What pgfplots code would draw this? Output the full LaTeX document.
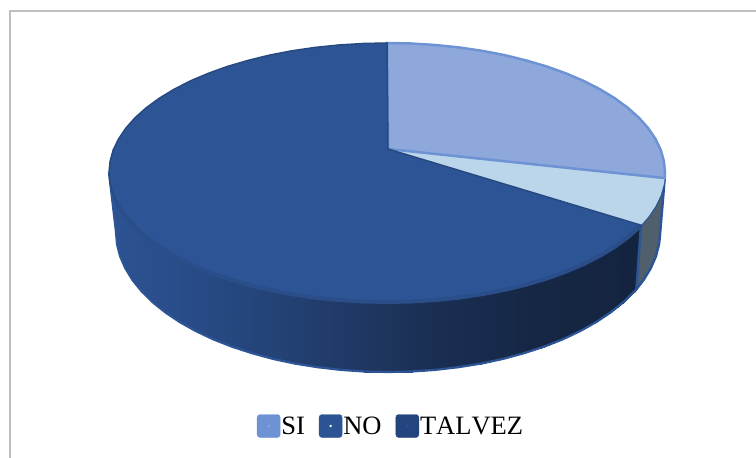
\documentclass[border=0pt]{standalone}
\usepackage{pgfplots}
\pgfplotsset{compat=1.18}
\usepackage{fontspec}
\setmainfont[Kerning=Off]{Liberation Serif}

\definecolor{si}{HTML}{8EA8DB}
\definecolor{siedge}{HTML}{6E93D5}
\definecolor{no}{HTML}{2D5596}
\definecolor{noedge}{HTML}{27497F}
\definecolor{bevel}{HTML}{294E8A}
\definecolor{talvez}{HTML}{BBD6EB}
\definecolor{legno}{HTML}{2C5494}
\definecolor{legtal}{HTML}{24447F}
\definecolor{frame}{HTML}{BFBFBF}
\definecolor{wallgrey}{HTML}{4F5F6B}

% legend swatch: rounded square with the small dot in the middle
\pgfplotsset{swatch/.style 2 args={legend image code/.code={%
    \fill[#1,rounded corners=3pt] (0pt,-11.5pt) rectangle (23pt,11.5pt);
    \fill[#2] (11.5pt,0pt) circle (1pt);
}}}

\begin{document}
\begin{tikzpicture}
% hidden axis gives no box of its own
\path[use as bounding box] (0pt,0pt) rectangle (756pt,458pt);
\begin{axis}[
    at={(0pt,0pt)}, anchor=south west,
    scale only axis,
    width=756pt,
    height=458pt,
    xmin=0, xmax=756,
    ymin=0, ymax=458,
    y dir=reverse,
    hide axis,
    colormap={wall}{rgb255=(44,82,146) rgb255=(38,73,130) rgb255=(33,60,107) rgb255=(27,47,84) rgb255=(22,39,69) rgb255=(20,36,63)},
    point meta min=116,
    point meta max=637,
    legend columns=3,
    legend style={
        at={(axis cs:390,426)}, anchor=center,
        draw=none, fill=none,
        font=\fontsize{26.5}{30}\selectfont,
        inner sep=0pt,
        nodes={inner sep=0pt},
        /tikz/every odd column/.style={column sep=1pt},
        /tikz/every even column/.style={column sep=14pt},
    },
]
    % chart frame, only the top and left sides show
    \addplot[forget plot, frame, line width=2pt] coordinates {(756,11) (10,11) (10,458)};

    % front wall of the NO slice, upper rim then lower rim
    \addplot[forget plot, surf, shader=interp, mesh/rows=2, mesh/cols=33, point meta=x] table {
x y
109 172.5
110.1 183.8
113.2 195
118.5 206
125.8 216.8
135 227.2
146.2 237.3
159.3 246.8
174 255.7
190.4 264.1
208.3 271.7
227.5 278.6
248 284.7
269.5 289.9
291.9 294.2
315.1 297.6
338.7 300
362.8 301.5
387 302
411.2 301.5
435.3 300
458.9 297.6
482.1 294.2
504.5 289.9
526 284.7
546.5 278.6
565.7 271.7
583.6 264.1
600 255.7
614.7 246.8
627.8 237.3
639 227.2
641 225.2
116 232
117 244.2
120.1 256.3
125.3 268.2
132.4 279.9
141.5 291.2
152.4 302
165.2 312.3
179.6 322
195.7 331
213.2 339.3
232 346.7
252 353.2
273 358.9
295 363.6
317.6 367.2
340.8 369.9
364.3 371.5
388 372
411.7 371.5
435.2 369.9
458.4 367.2
481 363.6
503 358.9
524 353.2
544 346.7
562.8 339.3
580.3 331
596.4 322
610.8 312.3
623.6 302
634.5 291.2
636.5 289
};
    % lower rim of the wall
    \addplot[forget plot, no, line width=2.2pt] coordinates {
        (109,172.5) (116,232) (117,244.2) (120.1,256.3) (125.3,268.2) (132.4,279.9) (141.5,291.2) (152.4,302)
        (165.2,312.3) (179.6,322) (195.7,331) (213.2,339.3) (232,346.7) (252,353.2) (273,358.9)
        (295,363.6) (317.6,367.2) (340.8,369.9) (364.3,371.5) (388,372) (411.7,371.5) (435.2,369.9)
        (458.4,367.2) (481,363.6) (503,358.9) (524,353.2) (544,346.7) (562.8,339.3) (580.3,331)
        (596.4,322) (610.8,312.3) (623.6,302) (634.5,291.2) (636.5,289)
    };

    % wall of the TALVEZ slice
    \addplot[forget plot, fill=wallgrey, draw=no, line width=2.5pt] coordinates {
        (664.7,178.1) (663.9,183.8) (660.8,195) (655.5,206) (648.2,216.8) (641,225.2)
        (636.5,289) (643.6,279.9) (650.7,268.2) (655.9,256.3) (659,244.2) (659.7,238.1) (664.7,178.1)
    };

    % top faces
    \addplot[forget plot, fill=talvez, draw=none] coordinates {
        (388,149) (664.7,178.1) (663.9,183.8) (660.8,195) (655.5,206) (648.2,216.8) (641,225.2) (388,149)
    };
    \addplot[forget plot, fill=si, draw=siedge, line width=2.5pt] coordinates {
        (388,149) (387,43) (411.2,43.5) (435.3,45) (458.9,47.4) (482.1,50.8) (504.5,55.1) (526,60.4)
        (546.5,66.4) (565.7,73.3) (583.6,80.9) (600,89.3) (614.7,98.2) (627.8,107.8) (639,117.8)
        (648.2,128.2) (655.5,139) (660.8,150) (663.9,161.2) (665,172.5) (664.7,178.1) (388,149)
    };
    \addplot[forget plot, fill=no, draw=noedge, line width=1.5pt] coordinates {
        (388,149) (641,225.2) (639,227.2) (627.8,237.3) (614.7,246.8) (600,255.7) (583.6,264.1) (565.7,271.7)
        (546.5,278.6) (526,284.7) (504.5,289.9) (482.1,294.2) (458.9,297.6) (435.3,300) (411.2,301.5)
        (387,302) (362.8,301.5) (338.7,300) (315.1,297.6) (291.9,294.2) (269.5,289.9) (248,284.7)
        (227.5,278.6) (208.3,271.7) (190.4,264.1) (174,255.7) (159.3,246.8) (146.2,237.3) (135,227.2)
        (125.8,216.8) (118.5,206) (113.2,195) (110.1,183.8) (109,172.5) (110.1,161.2) (113.2,150)
        (118.5,139) (125.8,128.2) (135,117.8) (146.2,107.8) (159.3,98.2) (174,89.3) (190.4,80.9)
        (208.3,73.3) (227.5,66.4) (248,60.4) (269.5,55.1) (291.9,50.8) (315.1,47.4) (338.7,45)
        (362.8,43.5) (387,43) (388,149)
    };
    % bevel along the front of the top face
    \addplot[forget plot, bevel, line width=4pt] coordinates {
        (118.5,206) (125.8,216.8) (135,227.2) (146.2,237.3) (159.3,246.8)
        (174,255.7) (190.4,264.1) (208.3,271.7) (227.5,278.6) (248,284.7) (269.5,289.9) (291.9,294.2)
        (315.1,297.6) (338.7,300) (362.8,301.5) (387,302) (411.2,301.5) (435.3,300) (458.9,297.6)
        (482.1,294.2) (504.5,289.9) (526,284.7) (546.5,278.6) (565.7,271.7) (583.6,264.1) (600,255.7)
        (614.7,246.8) (627.8,237.3) (639,227.2) (641,225.2)
    };

    \addlegendimage{swatch={siedge}{si}}
    \addlegendimage{swatch={legno}{white}}
    \addlegendimage{swatch={legtal}{legno}}
    \legend{SI,NO,TALVEZ}
\end{axis}
\end{tikzpicture}
\end{document}
